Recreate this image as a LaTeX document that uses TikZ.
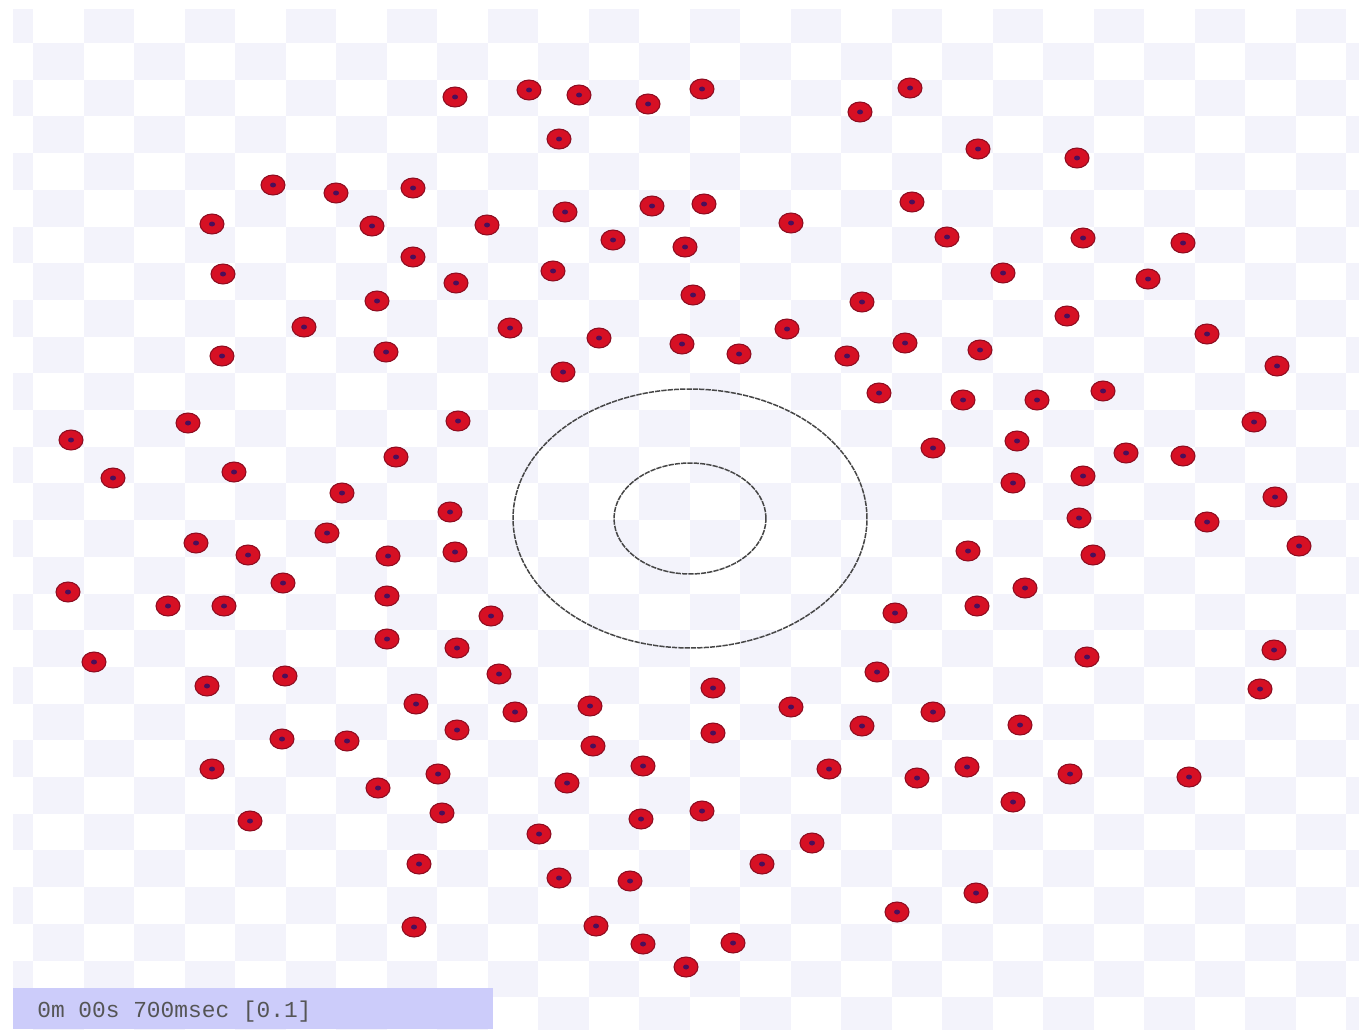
\documentclass[tikz,border=0pt]{standalone}
\usepackage{fontspec}
\newfontfamily\monofont{Liberation Mono}
\usetikzlibrary{shapes.geometric}
\definecolor{lav}{RGB}{243,243,251}
\definecolor{barfill}{RGB}{204,204,250}
\definecolor{dotred}{RGB}{214,16,36}
\definecolor{dotedge}{RGB}{140,12,32}
\definecolor{dotcore}{RGB}{75,15,90}
\definecolor{ringgray}{RGB}{70,70,70}
\definecolor{textgray}{RGB}{85,85,85}
\begin{document}
\begin{tikzpicture}[x=0.02cm,y=-0.02cm,
  dotnode/.style={ellipse, fill=dotred, draw=dotedge, line width=0.6pt,
    minimum width=0.48cm, minimum height=0.4cm, inner sep=0pt, outer sep=0pt},
  ring/.style={ellipse, draw=ringgray, line width=0.85pt, dash pattern=on 3pt off 0.6pt,
    inner sep=0pt, outer sep=0pt},
  barbox/.style={fill=barfill, anchor=north west, minimum width=9.6cm,
    minimum height=0.82cm, inner sep=0pt},
  timetext/.style={anchor=west, text=textgray, inner sep=0pt,
    font=\monofont\fontsize{13}{13}\selectfont}]
\fill[white] (0,0) rectangle (1359,1029);
\begin{scope}
  \clip (13,10) rectangle (1359,1029);
  \foreach \i in {-1,...,26}{
    \foreach \j in {-1,...,27}{
      \pgfmathtruncatemacro\s{mod(\i+\j+100,2)}
      \ifnum\s=0
        \fill[lav] ({33+50.5*\i},{43+36.7*\j}) rectangle ++(50.5,36.7);
      \fi
    }
  }
\end{scope}
\node[ring, minimum width=7.08cm, minimum height=5.18cm] (outer) at (690,518.5) {};
\node[ring, minimum width=3.04cm, minimum height=2.22cm] (inner) at (690,518.5) {};
\foreach \x/\y [count=\k] in {
455/97,529/90,579/95,648/104,702/89,860/112,910/88,559/139,978/149,1077/158,
273/185,336/193,413/188,212/224,372/226,487/225,565/212,652/206,704/204,791/223,
912/202,613/240,685/247,947/237,1083/238,1183/243,223/274,413/257,456/283,553/271,
1003/273,1148/279,377/301,693/295,862/302,304/327,510/328,599/338,682/344,739/354,
787/329,847/356,905/343,980/350,1067/316,1207/334,222/356,386/352,563/372,1277/366,
879/393,963/400,1037/400,1103/391,71/440,188/423,458/421,1254/422,113/478,234/472,
396/457,933/448,1017/441,1126/453,1183/456,1013/483,1083/476,342/493,450/512,1079/518,
1207/522,1275/497,196/543,327/533,1299/546,248/555,388/556,455/552,968/551,1093/555,
68/592,168/606,224/606,283/583,387/596,1025/588,977/606,895/613,491/616,387/639,
457/648,94/662,207/686,285/676,499/674,877/672,1087/657,1274/650,1260/689,713/688,
416/704,515/712,590/706,791/707,862/726,933/712,1020/725,457/730,713/733,282/739,
347/741,593/746,643/766,212/769,438/774,567/783,829/769,917/778,967/767,1070/774,
1189/777,378/788,1013/802,250/821,442/813,641/819,702/811,539/834,812/843,419/864,
762/864,559/878,630/881,897/912,976/893,414/927,596/926,643/944,733/943,686/967}{
  \node[dotnode] (d\k) at (\x,\y) {};
  \fill[dotcore] (d\k.center) ellipse [x radius=0.06cm, y radius=0.05cm];
}
\node[barbox] (bar) at (13,988) {};
\node[timetext] (time) at (37,1012) {0m 00s 700msec [0.1]};
\end{tikzpicture}
\end{document}
